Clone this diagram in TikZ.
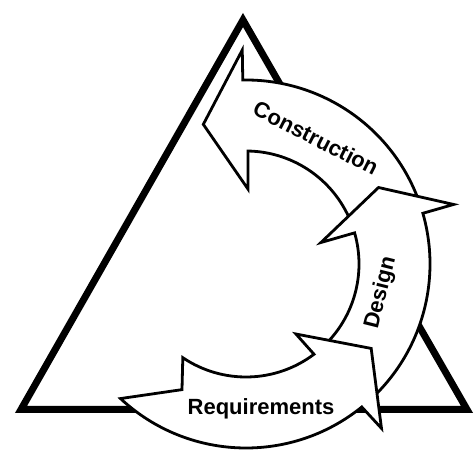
\documentclass[tikz,border=0pt]{standalone}
\usepackage{fontspec}
\setmainfont{Liberation Sans}
\begin{document}
\begin{tikzpicture}[x=1pt, y=1pt,
  phase/.style = {draw, fill=white, line width=2.8pt, line join=miter},
  label/.style = {font=\fontsize{22}{26}\selectfont\bfseries, inner sep=0pt}]
\useasboundingbox (0,0) rectangle (475,450);

\coordinate (apex) at (243,430);
\coordinate (left) at (21,40.5);
\coordinate (right) at (467,40.5);
\draw [line width=7pt, line join=miter] (apex) -- (left) -- (right) -- cycle;

\begin{scope}[shift={(246,186)}]
\draw [phase] (20:113) arc[start angle=20, end angle=89, radius=113]
  -- (88.5:75) -- (107:146) -- (91:214) -- (91:184)
  arc[start angle=91, end angle=20, radius=184] -- (24:141) -- cycle;
\draw [phase] (-48:113) arc[start angle=-48, end angle=16, radius=113]
  -- (16:78) -- (30:153) -- (16:216) -- (16:184)
  arc[start angle=16, end angle=-48, radius=184] -- (-44:141) -- cycle;
\draw [phase] (-124:113) arc[start angle=-124, end angle=-53, radius=113]
  -- (-54.5:86) -- (-34:151) -- (-50.5:213) -- (-51:184)
  arc[start angle=-51, end angle=-133, radius=184] -- (-117:141) -- cycle;
\end{scope}

\node (construction) [label, rotate=-27] at (316,312) {Construction};
\node (design) [label, rotate=76] at (381,157) {Design};
\node (requirements) [label, anchor=base] at (261,35) {Requirements};
\end{tikzpicture}
\end{document}
